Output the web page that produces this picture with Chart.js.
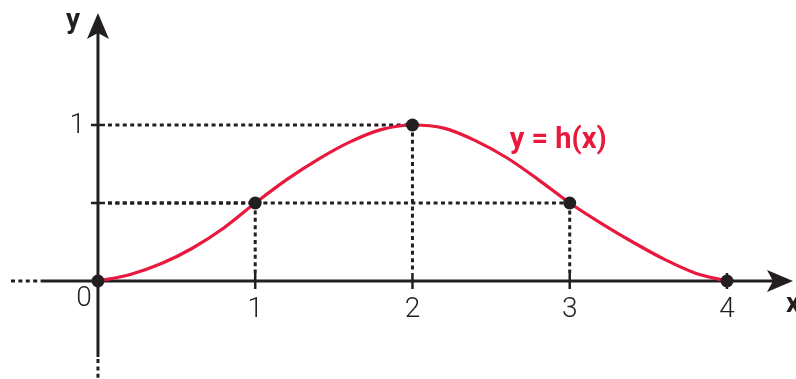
<!DOCTYPE html>
<html>
<head>
<meta charset="utf-8">
<script src="https://cdn.jsdelivr.net/npm/chart.js@4/dist/chart.umd.min.js"></script>
<style>
html,body{margin:0;padding:0;background:#fff;}
#wrap{width:796px;height:379px;}
</style>
</head>
<body>
<div id="wrap"><canvas id="c" width="796" height="379"></canvas></div>
<script>
// curve h(x)
const curveX = [0, 0.2, 0.4, 0.6, 0.8, 1, 1.2, 1.4, 1.6, 1.8, 2, 2.2, 2.4, 2.6, 2.8, 3, 3.2, 3.4, 3.6, 3.8, 4];
const curveY = [0, 0.04, 0.11, 0.21, 0.34, 0.5, 0.65, 0.78, 0.89, 0.97, 1, 0.98, 0.90, 0.79, 0.65, 0.5, 0.37, 0.25, 0.14, 0.05, 0];
// marked points
const pointX = [0, 1, 2, 3, 4];
const pointY = [0, 0.5, 1, 0.5, 0];
// tick labels
const xTicks = [1, 2, 3, 4];
const xTickLabels = ['1', '2', '3', '4'];
const yTicks = [0.5, 1];
const yTickLabels = ['', '1'];
const originLabel = '0';
const curveLabel = 'y = h(x)';
const curveLabelPos = [3.0, 0.9];

const RED = '#e8193c';
const INK = '#231f20';

const axesPlugin = {
  id: 'axesPlugin',
  beforeDatasetsDraw(chart) {
    const ctx = chart.ctx;
    const xs = chart.scales.x, ys = chart.scales.y;
    const X = v => xs.getPixelForValue(v), Y = v => ys.getPixelForValue(v);
    const x0 = X(0), y0 = Y(0);
    ctx.save();
    // dotted guide lines
    ctx.strokeStyle = INK;
    ctx.lineWidth = 3;
    ctx.setLineDash([4, 3.4]);
    for (let i = 0; i < pointX.length; i++) {
      if (pointY[i] === 0) continue;
      ctx.beginPath();
      ctx.moveTo(x0 + 10, Y(pointY[i]));
      ctx.lineTo(X(pointX[i]), Y(pointY[i]));
      ctx.stroke();
      ctx.beginPath();
      ctx.moveTo(X(pointX[i]), Y(pointY[i]));
      ctx.lineTo(X(pointX[i]), y0 - 8);
      ctx.stroke();
    }
    // dotted axis extensions
    ctx.beginPath();
    ctx.moveTo(11, y0); ctx.lineTo(42, y0);
    ctx.stroke();
    ctx.beginPath();
    ctx.moveTo(x0, 359); ctx.lineTo(x0, 379);
    ctx.stroke();
    ctx.setLineDash([]);
    // solid axes
    ctx.lineWidth = 3;
    ctx.beginPath();
    ctx.moveTo(42, y0); ctx.lineTo(775, y0);
    ctx.stroke();
    ctx.beginPath();
    ctx.moveTo(x0, 357); ctx.lineTo(x0, 30);
    ctx.stroke();
    // arrow heads
    ctx.fillStyle = INK;
    ctx.beginPath();
    ctx.moveTo(x0, 13);
    ctx.lineTo(x0 - 11, 39);
    ctx.lineTo(x0, 33);
    ctx.lineTo(x0 + 11, 39);
    ctx.closePath();
    ctx.fill();
    ctx.beginPath();
    ctx.moveTo(793, y0);
    ctx.lineTo(767, y0 - 11);
    ctx.lineTo(773, y0);
    ctx.lineTo(767, y0 + 11);
    ctx.closePath();
    ctx.fill();
    // ticks
    ctx.lineWidth = 2.5;
    xTicks.forEach(t => {
      ctx.beginPath();
      ctx.moveTo(X(t), y0 - 8); ctx.lineTo(X(t), y0 + 8);
      ctx.stroke();
    });
    yTicks.forEach(t => {
      ctx.beginPath();
      ctx.moveTo(x0 - 7, Y(t)); ctx.lineTo(x0 + 7, Y(t));
      ctx.stroke();
    });
    ctx.restore();
  },
  afterDraw(chart) {
    const ctx = chart.ctx;
    const xs = chart.scales.x, ys = chart.scales.y;
    const X = v => xs.getPixelForValue(v), Y = v => ys.getPixelForValue(v);
    const x0 = X(0), y0 = Y(0);
    ctx.save();
    ctx.fillStyle = INK;
    ctx.textAlign = 'center';
    ctx.textBaseline = 'middle';
    ctx.font = '300 28px Roboto, "Noto Sans", sans-serif';
    xTicks.forEach((t, i) => ctx.fillText(xTickLabels[i], X(t), y0 + 29));
    ctx.textAlign = 'right';
    yTicks.forEach((t, i) => { if (yTickLabels[i]) ctx.fillText(yTickLabels[i], x0 - 13, Y(t) + 1); });
    ctx.textAlign = 'center';
    ctx.fillText(originLabel, x0 - 14, y0 + 18);
    ctx.font = 'bold 28px Roboto, "Noto Sans", sans-serif';
    ctx.fillText('y', x0 - 25, 21);
    ctx.fillText('x', 793, y0 + 24);
    ctx.fillStyle = RED;
    ctx.font = 'bold 29px Roboto, "Noto Sans", sans-serif';
    ctx.textAlign = 'left';
    ctx.fillText(curveLabel, X(curveLabelPos[0]) - 60, Y(curveLabelPos[1]));
    ctx.restore();
  }
};

new Chart(document.getElementById('c'), {
  type: 'scatter',
  data: {
    datasets: [
      {
        data: curveX.map((x, i) => ({ x, y: curveY[i] })),
        showLine: true,
        borderColor: RED,
        borderWidth: 3.2,
        pointRadius: 0,
        cubicInterpolationMode: 'monotone',
        order: 2
      },
      {
        data: pointX.map((x, i) => ({ x, y: pointY[i] })),
        showLine: false,
        pointRadius: 6.5,
        pointBackgroundColor: INK,
        pointBorderColor: INK,
        pointBorderWidth: 0,
        order: 1
      }
    ]
  },
  options: {
    responsive: false,
    animation: false,
    layout: { padding: 0, autoPadding: false },
    plugins: { legend: { display: false }, tooltip: { enabled: false } },
    scales: {
      x: { type: 'linear', min: -0.623, max: 4.439, display: false },
      y: { type: 'linear', min: -0.628, max: 1.801, display: false }
    }
  },
  plugins: [axesPlugin]
});
</script>
</body>
</html>
